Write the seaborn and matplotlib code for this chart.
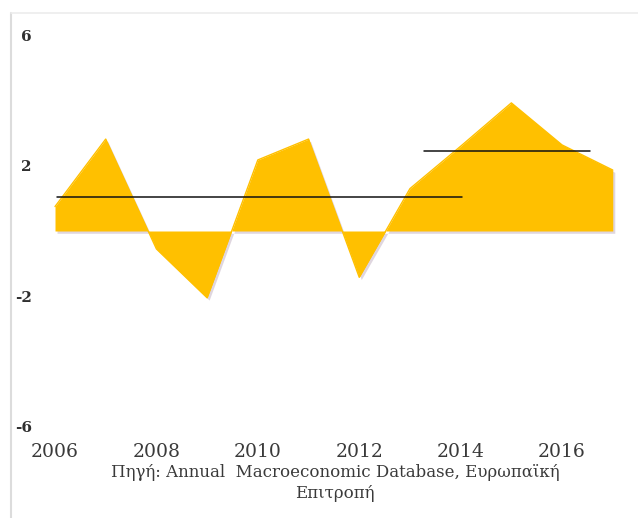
import matplotlib
matplotlib.use("Agg")
import matplotlib.pyplot as plt
from matplotlib.lines import Line2D
import numpy as np
import pandas as pd
import seaborn as sns

# Annual values
years = [2006, 2007, 2008, 2009, 2010, 2011, 2012, 2013, 2014, 2015, 2016, 2017]
values = [0.75, 2.82, -0.55, -2.05, 2.18, 2.82, -1.42, 1.3, 2.6, 3.93, 2.64, 1.87]

# Period averages (start, end, level)
avg_start = [2006.04, 2013.28]
avg_end = [2014.03, 2016.55]
avg_level = [1.04, 2.46]

y_ticks = [6, 2, -2, -6]
x_ticks = [2006, 2008, 2010, 2012, 2014, 2016]
source_text = "Πηγή: Annual  Macroeconomic Database, Ευρωπαϊκή\nΕπιτροπή"

sns.set_theme(style="white")
plt.rcParams["font.family"] = ["DejaVu Serif"]

df = pd.DataFrame({"year": years, "value": values})

W, H = 638, 518
fig = plt.figure(figsize=(W / 100, H / 100), dpi=100)
fig.patch.set_facecolor("white")

# axes box in pixels
left, right, top, bottom = 40, 630, 20, 433
ax = fig.add_axes([left / W, 1 - bottom / H, (right - left) / W, (bottom - top) / H])

gold = "#FFC000"

# soft shadow beneath the area
x = df["year"].to_numpy(dtype=float)
v = df["value"].to_numpy(dtype=float)
ax.fill_between(x + 0.04, v - 0.07, -0.07, color="#b9a6b8", alpha=0.45,
                linewidth=0, zorder=1)
ax.fill_between(x, v, 0, color=gold, linewidth=0, zorder=2)
sns.lineplot(data=df, x="year", y="value", ax=ax, color=gold, linewidth=1.0,
             zorder=3, legend=False)

for s, e, lv in zip(avg_start, avg_end, avg_level):
    ax.plot([s, e], [lv, lv], color="#111111", linewidth=1.1, zorder=4)

ax.set_xlim(2005.704, 2017.34)
ax.set_ylim((231 - bottom) / 32.6, (231 - top) / 32.6)

ax.set_xticks(x_ticks)
ax.set_xticklabels([str(t) for t in x_ticks], fontsize=13.5, color="#3a3a3a")
ax.set_yticks(y_ticks)
ax.set_yticklabels([str(t) for t in y_ticks], fontsize=11, color="#303030",
                   fontweight="bold")
ax.tick_params(axis="x", length=0, pad=7)
ax.tick_params(axis="y", length=0, pad=6)
ax.set_xlabel("")
ax.set_ylabel("")
for sp in ax.spines.values():
    sp.set_visible(False)
ax.grid(False)
ax.patch.set_alpha(0)

# chart area border (left and top edges)
fig.add_artist(Line2D([11 / W, 11 / W], [0, 1 - 13 / H], color="#dcdcdc",
                      linewidth=1.5, transform=fig.transFigure))
fig.add_artist(Line2D([11 / W, 1], [1 - 13 / H, 1 - 13 / H], color="#ececec",
                      linewidth=1.2, transform=fig.transFigure))

fig.text(335 / W, 1 - 483 / H, source_text, ha="center", va="center",
         fontsize=12, color="#3a3a3a", linespacing=1.25)

fig.savefig("out.png", dpi=100, facecolor="white")
